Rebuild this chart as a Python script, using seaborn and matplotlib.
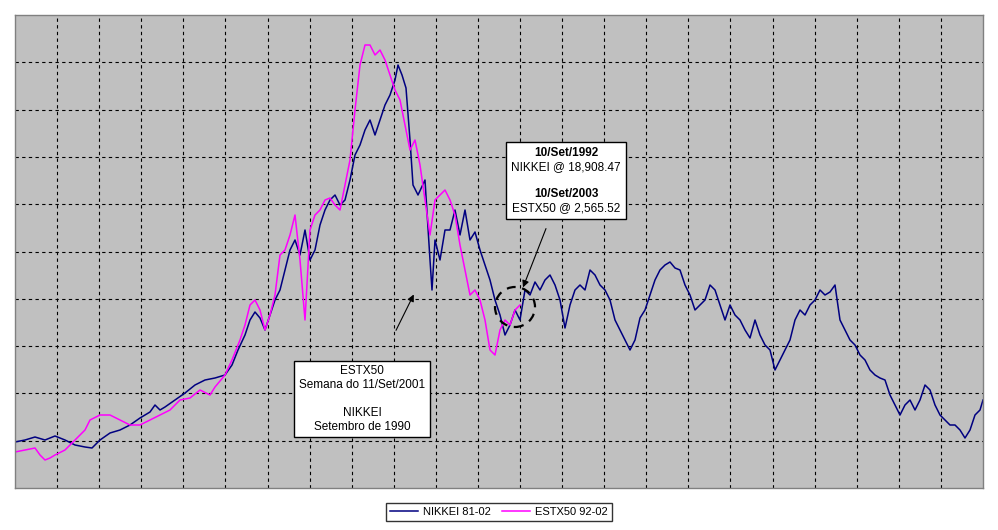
import matplotlib
matplotlib.use("Agg")
import matplotlib.pyplot as plt
import seaborn as sns
import pandas as pd
from matplotlib.patches import Circle

plt.rcParams["font.family"] = "Liberation Sans"

nikkei_x = [15,25,35,45,55,65,75,85,92,100,110,120,130,140,150,155,160,165,175,185,195,205,215,225,232,238] \
    + list(range(245, 396, 5)) + [398,402,406,410,413,418,425,430,432,435] + list(range(440, 981, 5)) + [983]
nikkei_y = [46,48,51,48,52,48,43,41, 40,48, 55,58,63,70,76, 83,78,81, 88,95,103,108,110,113, 123,138,
    153,168,176,170,158,173,188,198,218,238,248,233,258,228,238,263,278,288,293,283,288,308,333,343,358,368,353,368,383,393,408,
    423,413,400,348,303,293,
    308,228,198,248,
    228,258,258,278,253,278,248,256,238,223,208,188,173,153,163,178,168,198,193,206,198,208,213,203,188,160,183,198,203,198,218,213,
    203,198,188,168,158,148,138,148,170,178,193,208,218,223,226,220,218,203,193,178,183,188,203,198,183,168,183,173,168,158,150,168,
    153,143,138,118,128,138,148,168,178,173,183,188,198,193,196,203,168,158,148,143,133,128,118,113,110,108,93,83,73,83,88,78,88,103,
    98,83,73,68,63,63,58,50,58,73,78,
    88]
estx_x = [15,25,35,40,45,50,55,65,75,85,90,100,110,120,130,140,150,160,170,180,190,200,210,215,225,232] + list(range(240, 521, 5))
estx_y = [36,38,40,33,28,30,33,38,48,58,68,73,73,68,63,63,68,73,78,88,90,98,93,101,113,128,
    148,163,183,188,178,158,173,193,233,238,253,273,228,168,258,273,278,288,290,283,278,303,328,378,423,443,443,433,438,428,413,398,
    388,363,338,348,323,288,253,288,293,298,288,273,243,218,193,198,188,168,138,133,158,168,163,178,183]

series_names = ["NIKKEI 81-02", "ESTX50 92-02"]
n1 = min(len(nikkei_x), len(nikkei_y)); n2 = min(len(estx_x), len(estx_y))
df = pd.concat([
    pd.DataFrame({"t": nikkei_x[:n1], "v": nikkei_y[:n1], "s": series_names[0]}),
    pd.DataFrame({"t": estx_x[:n2], "v": estx_y[:n2], "s": series_names[1]}),
])

fig = plt.figure(figsize=(9.98, 5.3), dpi=100)
ax = fig.add_axes([15/998, 42/530, 968/998, 473/530])
ax.set_facecolor("#C0C0C0")
sns.lineplot(data=df, x="t", y="v", hue="s", palette=["#000080", "#FF00FF"], sort=False,
             estimator=None, linewidth=1.1, ax=ax, legend=True)
ax.set_xlim(15, 983); ax.set_ylim(0, 473)
ax.set_xticks([15 + 968/23*i for i in range(1, 23)])
ax.set_yticks([473/10*i for i in range(1, 10)])
ax.tick_params(length=0, labelbottom=False, labelleft=False)
ax.grid(True, color="black", linestyle=(0, (3, 3)), linewidth=0.8)
ax.set_axisbelow(True)
ax.set_xlabel(""); ax.set_ylabel("")
for s in ax.spines.values():
    s.set_color("#808080"); s.set_linewidth(1)

leg = ax.legend(loc="upper center", bbox_to_anchor=(0.5, -0.02), ncol=2, frameon=True, fancybox=False,
                edgecolor="black", fontsize=8, handlelength=2.5, borderpad=0.35, columnspacing=1.0,
                handletextpad=0.5)
leg.get_frame().set_linewidth(1)

bbox = dict(boxstyle="square,pad=0.4", fc="white", ec="black", lw=1)
ax.annotate("ESTX50\nSemana do 11/Set/2001\n\nNIKKEI\nSetembro de 1990", xy=(415, 196), xytext=(362, 89),
            ha="center", va="center", fontsize=8.5, bbox=bbox,
            arrowprops=dict(arrowstyle="-|>", color="black", lw=0.8, shrinkA=24, mutation_scale=10))
ax.annotate("", xy=(522, 198), xytext=(547, 262),
            arrowprops=dict(arrowstyle="-|>", color="black", lw=0.8, mutation_scale=10))
ax.text(566, 341, " \nNIKKEI @ 18,908.47\n\n\nESTX50 @ 2,565.52", ha="center", va="top", fontsize=8.5,
        bbox=bbox, zorder=5, linespacing=1.2)
ax.text(566, 341, "10/Set/1992\n\n\n10/Set/2003\n ", ha="center", va="top", fontsize=8.5,
        fontweight="bold", zorder=6, linespacing=1.2)
ax.add_patch(Circle((515, 181), 20, transform=ax.transData, fill=False, ec="black", lw=1.6, ls=(0, (4, 3)), zorder=4))
fig.savefig("out.png", dpi=100)
